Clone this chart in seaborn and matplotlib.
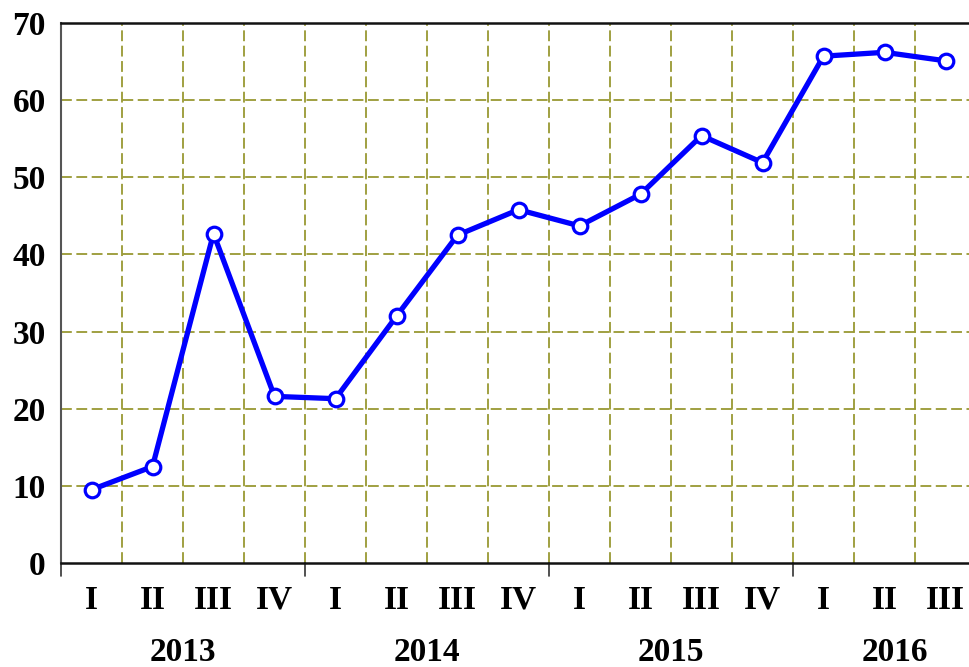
import numpy as np
import pandas as pd
import matplotlib
matplotlib.use('Agg')
import matplotlib.pyplot as plt
import seaborn as sns

# -------------------------
# Data
# -------------------------
quarters = ["I", "II", "III", "IV", "I", "II", "III", "IV",
            "I", "II", "III", "IV", "I", "II", "III"]
years = ["2013", "2014", "2015", "2016"]
quarters_per_year = [4, 4, 4, 3]
values = [9.5, 12.5, 42.7, 21.6, 21.3, 32.0, 42.5, 45.8,
          43.7, 47.8, 55.4, 51.9, 65.7, 66.2, 65.1]

GRID_COLOR = "#999933"
LINE_COLOR = "#0000ff"

# -------------------------
# Plot
# -------------------------
sns.set_style("white")
plt.rcParams['font.family'] = ['Liberation Serif', 'DejaVu Serif']
plt.rcParams['font.weight'] = 'bold'
plt.rcParams['text.color'] = 'black'
plt.rcParams['xtick.color'] = 'black'
plt.rcParams['ytick.color'] = 'black'

df = pd.DataFrame({"pos": np.arange(len(values)), "value": values})

fig = plt.figure(figsize=(9.69, 6.67), dpi=100)
ax = fig.add_axes([61 / 969, 1 - 563 / 667, 915 / 969, 540 / 667])

sns.lineplot(data=df, x="pos", y="value", ax=ax, color=LINE_COLOR,
             linewidth=3.8, marker="o", markersize=10.5,
             markerfacecolor="white", markeredgecolor=LINE_COLOR,
             markeredgewidth=2.3, zorder=5)

n = len(values)
ax.set_xlim(-0.5, n - 0.5)
ax.set_ylim(0, 70)

# gridlines
for yv in range(10, 70, 10):
    ax.axhline(yv, color=GRID_COLOR, linestyle=(0, (6, 2.5)), linewidth=1.3, zorder=1)
for xv in np.arange(0.5, n - 0.5, 1):
    ax.axvline(xv, color=GRID_COLOR, linestyle=(0, (6, 2.5)), linewidth=1.3, zorder=1)

# y axis
ax.set_yticks(range(0, 80, 10))
ax.tick_params(axis="y", direction="out", length=8, width=1.2, color="#555555",
               labelsize=24, pad=3)
for lab in ax.get_yticklabels():
    lab.set_fontweight("bold")

# x axis: ticks on boundaries, labels drawn as text on a common baseline
boundaries = np.arange(-0.5, n, 1)
ax.set_xticks(boundaries)
ax.set_xticklabels([])
ax.tick_params(axis="x", direction="out", length=8, width=1.2, color="#555555")
year_edges = np.cumsum([0] + quarters_per_year) - 0.5
for xe in year_edges[:-1]:
    ax.plot([xe, xe], [0, -1.7], color="#333333", linewidth=1.2, clip_on=False)

for i, q in enumerate(quarters):
    ax.text(i, -5.95, q, ha="center", va="baseline", fontsize=24,
            fontweight="bold")

# year labels
starts = year_edges[:-1]
for yr, st, cnt in zip(years, starts, quarters_per_year):
    centre = st + cnt / 2 + (0.17 if cnt < 4 else 0)
    ax.text(centre, -12.75, yr, ha="center", va="baseline", fontsize=24,
            fontweight="bold")

ax.set_xlabel("")
ax.set_ylabel("")

ax.spines["left"].set_color("#555555")
ax.spines["left"].set_linewidth(1.5)
ax.spines["bottom"].set_color("#111111")
ax.spines["bottom"].set_linewidth(1.8)
ax.spines["top"].set_color("#111111")
ax.spines["top"].set_linewidth(1.8)
ax.spines["right"].set_visible(False)

fig.savefig("out.png", dpi=100)
plt.close(fig)
